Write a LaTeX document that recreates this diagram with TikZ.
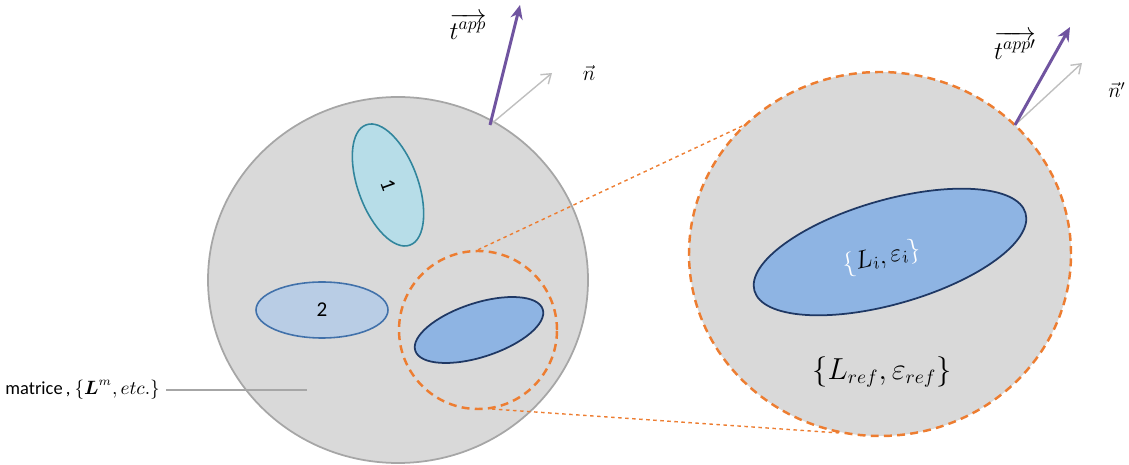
\documentclass[tikz,border=0pt]{standalone}
\usepackage{amsmath,amssymb}
\usepackage{fontspec}
\setmainfont{Carlito}
\usetikzlibrary{arrows.meta,positioning,shapes.geometric}

\definecolor{bodygray}{RGB}{217,217,217}
\definecolor{rimgray}{RGB}{166,166,166}
\definecolor{zoomorange}{RGB}{237,125,49}
\definecolor{tractpurple}{RGB}{112,84,160}
\definecolor{normalgray}{RGB}{191,191,191}
\definecolor{cyanfill}{RGB}{183,221,232}
\definecolor{cyanrim}{RGB}{49,133,156}
\definecolor{paleblue}{RGB}{185,205,229}
\definecolor{palerim}{RGB}{65,113,170}
\definecolor{midblue}{RGB}{142,180,227}
\definecolor{navy}{RGB}{31,56,100}

\begin{document}
\begin{tikzpicture}[every node/.style={font=\large},
  body/.style={ellipse, draw=rimgray, fill=bodygray, line width=1pt, inner sep=0pt},
  zoomrim/.style={draw=zoomorange, line width=1.4pt, dash pattern=on 4.5pt off 3pt},
  zoomlink/.style={draw=zoomorange, line width=0.8pt, dash pattern=on 2pt off 2pt},
  tract/.style={tractpurple, line width=1.7pt, -{Stealth[length=8pt,width=7pt]}},
  normalvec/.style={normalgray, line width=0.8pt, -{Straight Barb[length=5pt,width=7pt]}}]
\useasboundingbox (0,0) rectangle (22.58,9.30);
% matrix and enlarged view
\node[body, minimum width=7.60cm, minimum height=7.32cm] (matrix) at (7.96,3.70) {};
\node[body, zoomrim, fill=bodygray, minimum width=7.64cm, minimum height=7.28cm] (view) at (17.60,4.22) {};
\node[circle, zoomrim, minimum size=3.16cm, inner sep=0pt] (zoomc) at (9.56,2.70) {};
\draw[zoomlink] (zoomc.north) -- (view.137);
\draw[zoomlink] (zoomc.-80) -- (view.-103);
% inclusions
\draw[cyanrim, fill=cyanfill, line width=0.9pt, rotate around={110:(7.76,5.60)}] (7.76,5.60) ellipse (1.28 and 0.60);
\node[rotate=-70] (lab1) at (7.76,5.60) {1};
\draw[palerim, fill=paleblue, line width=0.9pt] (6.44,3.10) ellipse (1.32 and 0.56);
\node (lab2) at (6.44,3.10) {2};
\draw[navy, fill=midblue, line width=1pt, rotate around={18:(9.58,2.70)}] (9.58,2.70) ellipse (1.34 and 0.54);
\draw[navy, fill=midblue, line width=1pt, rotate around={16:(17.80,4.26)}] (17.80,4.26) ellipse (2.82 and 1.04);
\node[rotate=12, font=\Large] (incl) at (17.64,4.14) {$\textcolor{white}{\{}L_i,\varepsilon_i\textcolor{white}{\}}$};
\node[font=\fontsize{16}{19}\selectfont] (refprop) at (17.64,1.86) {$\{L_{ref},\varepsilon_{ref}\}$};
% matrix label
\node[anchor=east, font=\fontsize{10.5}{13}\selectfont] (matlab) at (3.32,1.50) {matrice\,, $\{\boldsymbol{L}^m, etc.\}$};
\coordinate (matpt) at (6.14,1.50);
\draw[rimgray, line width=0.8pt] (matlab.east) -- (matpt);
% surface vectors
\coordinate (foot) at (9.80,6.80);
\coordinate (ttip) at (10.40,9.20);
\coordinate (ntip) at (11.04,7.84);
\draw[normalvec] (foot) -- (ntip);
\draw[tract] (foot) -- (ttip);
\node[font=\Large, inner sep=1pt] (tlab) at (9.36,8.78) {$\overrightarrow{t^{app}}$};
\node (nlab) at (11.78,7.84) {$\vec{n}$};
\coordinate (footp) at (20.30,6.80);
\coordinate (ttipp) at (21.40,8.76);
\coordinate (ntipp) at (21.64,8.04);
\draw[normalvec] (footp) -- (ntipp);
\draw[tract] (footp) -- (ttipp);
\node[font=\Large, inner sep=1pt] (tlabp) at (20.30,8.40) {$\overrightarrow{t^{app\prime}}$};
\node (nlabp) at (22.34,7.50) {$\vec{n}'$};
\end{tikzpicture}
\end{document}
